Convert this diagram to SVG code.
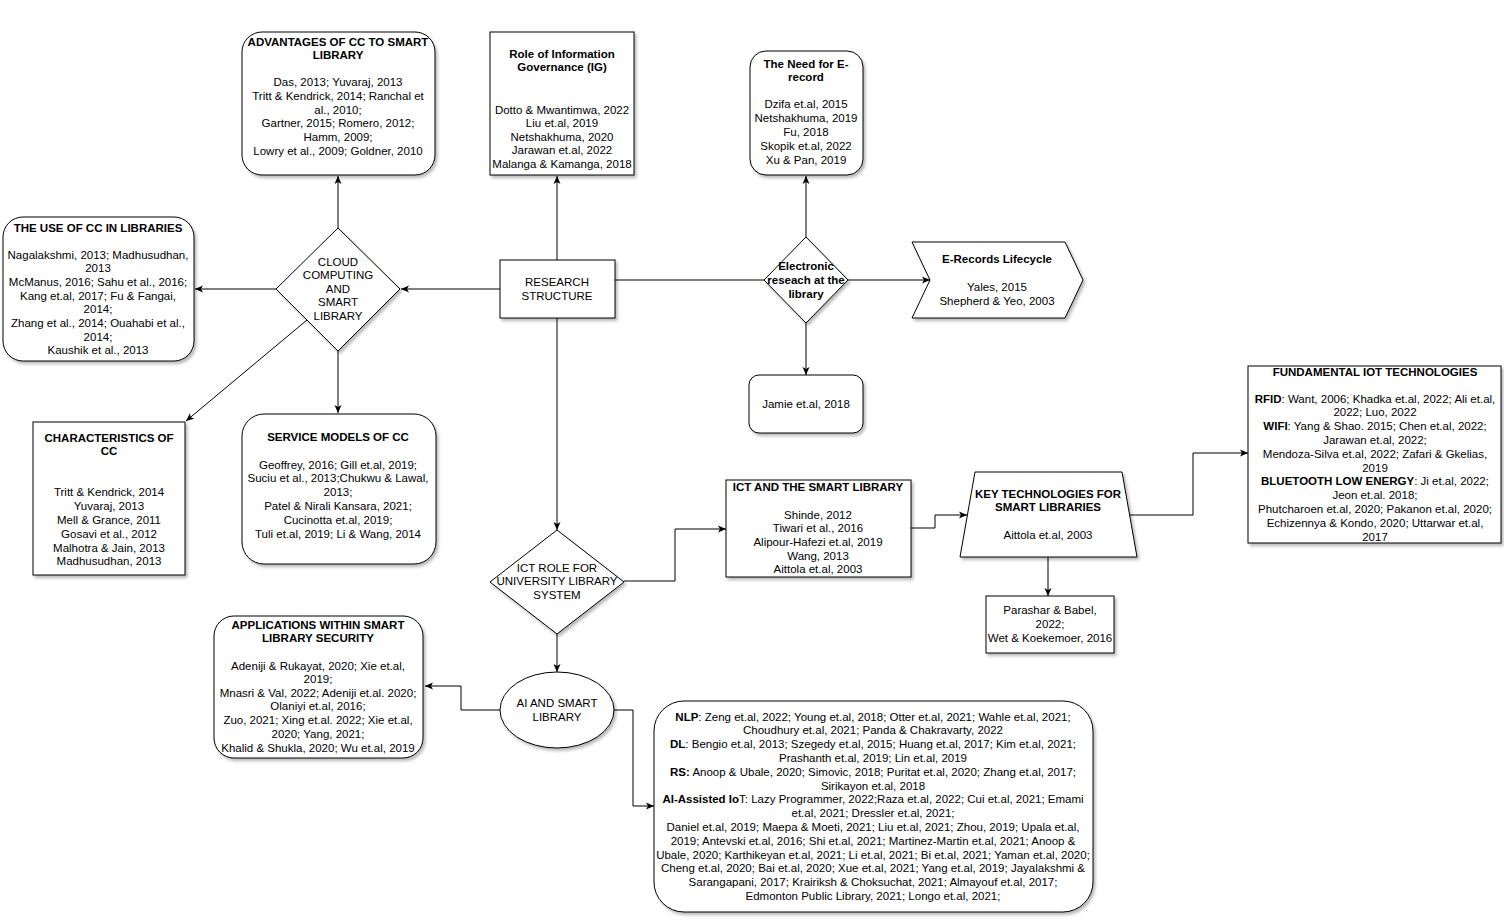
<svg xmlns="http://www.w3.org/2000/svg" width="1504" height="920" viewBox="0 0 1504 920">
<style>
text{font-family:"Liberation Sans",Arial,Helvetica,sans-serif;font-size:11.5px;fill:#000;text-anchor:middle}
.b{font-weight:bold}
.n{fill:#fff;stroke:#000;stroke-width:1}
.c{fill:none;stroke:#000;stroke-width:1}
</style>
<defs>
<filter id="sh" x="-10%" y="-10%" width="130%" height="130%">
<feDropShadow dx="2" dy="2.5" stdDeviation="1.5" flood-color="#000" flood-opacity="0.28"/>
</filter>
<marker id="ar" markerUnits="userSpaceOnUse" markerWidth="9" markerHeight="8" refX="8" refY="4" orient="auto">
<path d="M0,0.5 L8,4 L0,7.5 L2,4 z" fill="#000"/>
</marker>
</defs>
<rect width="1504" height="920" fill="#fff"/>

<g id="connectors">
<path class="c" d="M557,260 V176" marker-end="url(#ar)"/>
<path class="c" d="M500,289 H401" marker-end="url(#ar)"/>
<path class="c" d="M276,289 H195" marker-end="url(#ar)"/>
<path class="c" d="M338,228 V176" marker-end="url(#ar)"/>
<path class="c" d="M307,320 L186,421" marker-end="url(#ar)"/>
<path class="c" d="M338,351 V413" marker-end="url(#ar)"/>
<path class="c" d="M615,280 H764"/>
<path class="c" d="M848,280 H930" marker-end="url(#ar)"/>
<path class="c" d="M806,237 V176" marker-end="url(#ar)"/>
<path class="c" d="M806,323 V375" marker-end="url(#ar)"/>
<path class="c" d="M557,318 V530" marker-end="url(#ar)"/>
<path class="c" d="M624,581 H675 V529 H726" marker-end="url(#ar)"/>
<path class="c" d="M911,528 H935 V515 H967" marker-end="url(#ar)"/>
<path class="c" d="M1130,515 H1193 V453 H1248" marker-end="url(#ar)"/>
<path class="c" d="M1048,557 V596" marker-end="url(#ar)"/>
<path class="c" d="M557,634 V672" marker-end="url(#ar)"/>
<path class="c" d="M500,710 H461 V686 H425" marker-end="url(#ar)"/>
<path class="c" d="M614,710 H633 V806 H654" marker-end="url(#ar)"/>
</g>

<g id="advantages">
<rect class="n" filter="url(#sh)" x="242" y="32" width="193" height="143" rx="20"/>
<text class="b" x="338" y="46">ADVANTAGES OF CC TO SMART</text>
<text class="b" x="338" y="59">LIBRARY</text>
<text x="338" y="86">Das, 2013; Yuvaraj, 2013</text>
<text x="338" y="100">Tritt &amp; Kendrick, 2014; Ranchal et</text>
<text x="338" y="114">al., 2010;</text>
<text x="338" y="127">Gartner, 2015; Romero, 2012;</text>
<text x="338" y="141">Hamm, 2009;</text>
<text x="338" y="155">Lowry et al., 2009; Goldner, 2010</text>
</g>

<g id="use-of-cc">
<rect class="n" filter="url(#sh)" x="3" y="217" width="191" height="144" rx="20"/>
<text class="b" x="98" y="232">THE USE OF CC IN LIBRARIES</text>
<text x="98" y="259">Nagalakshmi, 2013; Madhusudhan,</text>
<text x="98" y="272">2013</text>
<text x="98" y="286">McManus, 2016; Sahu et al., 2016;</text>
<text x="98" y="300">Kang et.al, 2017; Fu &amp; Fangai,</text>
<text x="98" y="313">2014;</text>
<text x="98" y="327">Zhang et al., 2014; Ouahabi et al.,</text>
<text x="98" y="341">2014;</text>
<text x="98" y="354">Kaushik et al., 2013</text>
</g>

<g id="characteristics">
<rect class="n" filter="url(#sh)" x="33" y="422" width="152" height="153"/>
<text class="b" x="109" y="442">CHARACTERISTICS OF</text>
<text class="b" x="109" y="455">CC</text>
<text x="109" y="496">Tritt &amp; Kendrick, 2014</text>
<text x="109" y="510">Yuvaraj, 2013</text>
<text x="109" y="524">Mell &amp; Grance, 2011</text>
<text x="109" y="538">Gosavi et al., 2012</text>
<text x="109" y="552">Malhotra &amp; Jain, 2013</text>
<text x="109" y="565">Madhusudhan, 2013</text>
</g>

<g id="service-models">
<rect class="n" filter="url(#sh)" x="242" y="414" width="194" height="150" rx="22"/>
<text class="b" x="338" y="441">SERVICE MODELS OF CC</text>
<text x="338" y="469">Geoffrey, 2016; Gill et.al, 2019;</text>
<text x="338" y="482">Suciu et al., 2013;Chukwu &amp; Lawal,</text>
<text x="338" y="496">2013;</text>
<text x="338" y="510">Patel &amp; Nirali Kansara, 2021;</text>
<text x="338" y="524">Cucinotta et.al, 2019;</text>
<text x="338" y="538">Tuli et.al, 2019; Li &amp; Wang, 2014</text>
</g>

<g id="cloud-computing">
<polygon class="n" filter="url(#sh)" points="338,228 400,289 338,351 276,289"/>
<text x="338" y="266">CLOUD</text>
<text x="338" y="279">COMPUTING</text>
<text x="338" y="293">AND</text>
<text x="338" y="306">SMART</text>
<text x="338" y="320">LIBRARY</text>
</g>

<g id="research-structure">
<rect class="n" filter="url(#sh)" x="500" y="260" width="115" height="58"/>
<text x="557" y="286">RESEARCH</text>
<text x="557" y="300">STRUCTURE</text>
</g>

<g id="role-ig">
<rect class="n" filter="url(#sh)" x="490" y="32" width="144" height="143"/>
<text class="b" x="562" y="58">Role of Information</text>
<text class="b" x="562" y="71">Governance (IG)</text>
<text x="562" y="114">Dotto &amp; Mwantimwa, 2022</text>
<text x="562" y="127">Liu et.al, 2019</text>
<text x="562" y="141">Netshakhuma, 2020</text>
<text x="562" y="154">Jarawan et.al, 2022</text>
<text x="562" y="168">Malanga &amp; Kamanga, 2018</text>
</g>

<g id="need-erecord">
<rect class="n" filter="url(#sh)" x="750" y="51" width="113" height="124" rx="16"/>
<text class="b" x="806" y="68">The Need for E-</text>
<text class="b" x="806" y="81">record</text>
<text x="806" y="108">Dzifa et.al, 2015</text>
<text x="806" y="122">Netshakhuma, 2019</text>
<text x="806" y="136">Fu, 2018</text>
<text x="806" y="150">Skopik et.al, 2022</text>
<text x="806" y="164">Xu &amp; Pan, 2019</text>
</g>

<g id="electronic-research">
<polygon class="n" filter="url(#sh)" points="806,237 848,280 806,323 764,280"/>
<text class="b" x="806" y="270">Electronic</text>
<text class="b" x="806" y="284">reseach at the</text>
<text class="b" x="806" y="298">library</text>
</g>

<g id="erecords-lifecycle">
<polygon class="n" filter="url(#sh)" points="912,242 1065,242 1083,280 1065,318 912,318 930,280"/>
<text class="b" x="997" y="263">E-Records Lifecycle</text>
<text x="997" y="291">Yales, 2015</text>
<text x="997" y="305">Shepherd &amp; Yeo, 2003</text>
</g>

<g id="jamie">
<rect class="n" filter="url(#sh)" x="749" y="375" width="114" height="58" rx="10"/>
<text x="806" y="408">Jamie et.al, 2018</text>
</g>

<g id="ict-role">
<polygon class="n" filter="url(#sh)" points="557,530 624,582 557,634 490,582"/>
<text x="557" y="572">ICT ROLE FOR</text>
<text x="557" y="585">UNIVERSITY LIBRARY</text>
<text x="557" y="599">SYSTEM</text>
</g>

<g id="ict-smart-library">
<rect class="n" filter="url(#sh)" x="726" y="480" width="185" height="97"/>
<text class="b" x="818" y="491">ICT AND THE SMART LIBRARY</text>
<text x="818" y="519">Shinde, 2012</text>
<text x="818" y="532">Tiwari et al., 2016</text>
<text x="818" y="546">Alipour-Hafezi et.al, 2019</text>
<text x="818" y="560">Wang, 2013</text>
<text x="818" y="573">Aittola et.al, 2003</text>
</g>

<g id="key-technologies">
<polygon class="n" filter="url(#sh)" points="975,472 1122,472 1137,557 960,557"/>
<text class="b" x="1048" y="498">KEY TECHNOLOGIES FOR</text>
<text class="b" x="1048" y="511">SMART LIBRARIES</text>
<text x="1048" y="539">Aittola et.al, 2003</text>
</g>

<g id="parashar">
<rect class="n" filter="url(#sh)" x="986" y="596" width="128" height="57"/>
<text x="1050" y="614">Parashar &amp; Babel,</text>
<text x="1050" y="628">2022;</text>
<text x="1050" y="642">Wet &amp; Koekemoer, 2016</text>
</g>

<g id="fundamental-iot">
<rect class="n" filter="url(#sh)" x="1248" y="366" width="253" height="177"/>
<text class="b" x="1375" y="376">FUNDAMENTAL IOT TECHNOLOGIES</text>
<text x="1375" y="403"><tspan class="b">RFID</tspan>: Want, 2006; Khadka et.al, 2022; Ali et.al,</text>
<text x="1375" y="416">2022; Luo, 2022</text>
<text x="1375" y="430"><tspan class="b">WIFI</tspan>: Yang &amp; Shao. 2015; Chen et.al, 2022;</text>
<text x="1375" y="444">Jarawan et.al, 2022;</text>
<text x="1375" y="458">Mendoza-Silva et.al, 2022; Zafari &amp; Gkelias,</text>
<text x="1375" y="472">2019</text>
<text x="1375" y="485"><tspan class="b">BLUETOOTH LOW ENERGY</tspan>: Ji et.al, 2022;</text>
<text x="1375" y="499">Jeon et.al. 2018;</text>
<text x="1375" y="513">Phutcharoen et.al, 2020; Pakanon et.al, 2020;</text>
<text x="1375" y="527">Echizennya &amp; Kondo, 2020; Uttarwar et.al,</text>
<text x="1375" y="541">2017</text>
</g>

<g id="applications-security">
<rect class="n" filter="url(#sh)" x="214" y="616" width="209" height="142" rx="20"/>
<text class="b" x="318" y="629">APPLICATIONS WITHIN SMART</text>
<text class="b" x="318" y="642">LIBRARY SECURITY</text>
<text x="318" y="670">Adeniji &amp; Rukayat, 2020; Xie et.al,</text>
<text x="318" y="683">2019;</text>
<text x="318" y="697">Mnasri &amp; Val, 2022; Adeniji et.al. 2020;</text>
<text x="318" y="710">Olaniyi et.al, 2016;</text>
<text x="318" y="724">Zuo, 2021; Xing et.al. 2022; Xie et.al,</text>
<text x="318" y="738">2020; Yang, 2021;</text>
<text x="318" y="752">Khalid &amp; Shukla, 2020; Wu et.al, 2019</text>
</g>

<g id="ai-smart-library">
<ellipse class="n" filter="url(#sh)" cx="557" cy="710" rx="57" ry="38"/>
<text x="557" y="707">AI AND SMART</text>
<text x="557" y="721">LIBRARY</text>
</g>

<g id="ai-references">
<rect class="n" filter="url(#sh)" x="654" y="701" width="439" height="211" rx="30"/>
<text x="873" y="721"><tspan class="b">NLP</tspan>: Zeng et.al, 2022; Young et.al, 2018; Otter et.al, 2021; Wahle et.al, 2021;</text>
<text x="873" y="734">Choudhury et.al, 2021; Panda &amp; Chakravarty, 2022</text>
<text x="873" y="748"><tspan class="b">DL</tspan>: Bengio et.al, 2013; Szegedy et.al, 2015; Huang et.al, 2017; Kim et.al, 2021;</text>
<text x="873" y="762">Prashanth et.al, 2019; Lin et.al, 2019</text>
<text x="873" y="776"><tspan class="b">RS:</tspan> Anoop &amp; Ubale, 2020; Simovic, 2018; Puritat et.al, 2020; Zhang et.al, 2017;</text>
<text x="873" y="790">Sirikayon et.al, 2018</text>
<text x="873" y="803"><tspan class="b">AI-Assisted Io</tspan>T: Lazy Programmer, 2022;Raza et.al, 2022; Cui et.al, 2021; Emami</text>
<text x="873" y="817">et.al, 2021; Dressler et.al, 2021;</text>
<text x="873" y="831">Daniel et.al, 2019; Maepa &amp; Moeti, 2021; Liu et.al, 2021; Zhou, 2019; Upala et.al,</text>
<text x="873" y="845">2019; Antevski et.al, 2016; Shi et.al, 2021; Martinez-Martin et.al, 2021; Anoop &amp;</text>
<text x="873" y="859">Ubale, 2020; Karthikeyan et.al, 2021; Li et.al, 2021; Bi et.al, 2021; Yaman et.al, 2020;</text>
<text x="873" y="872">Cheng et.al, 2020; Bai et.al, 2020; Xue et.al, 2021; Yang et.al, 2019; Jayalakshmi &amp;</text>
<text x="873" y="886">Sarangapani, 2017; Krairiksh &amp; Choksuchat, 2021; Almayouf et.al, 2017;</text>
<text x="873" y="900">Edmonton Public Library, 2021; Longo et.al, 2021;</text>
</g>
</svg>
